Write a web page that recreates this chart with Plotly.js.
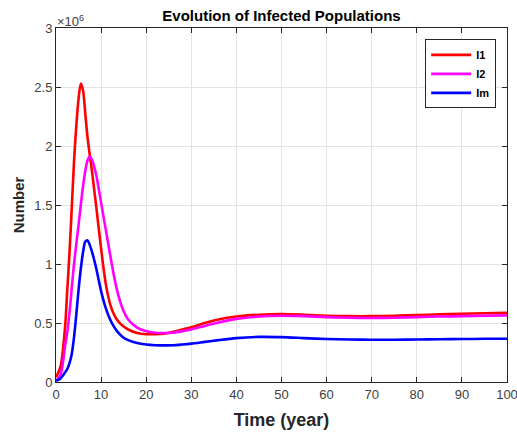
<!DOCTYPE html>
<html>
<head>
<meta charset="utf-8">
<script src="https://cdn.plot.ly/plotly-3.0.1.min.js"></script>
<style>html,body{margin:0;padding:0;background:#fff;}#chart{width:517px;height:437px;}</style>
</head>
<body>
<div id="chart"></div>
<script>
// Time (years)
const timeYears = [0, 1, 2, 2.5, 3, 3.5, 4, 4.5, 5, 5.5, 6, 6.5, 7, 7.5, 8, 8.5, 9, 10, 11, 12, 13, 14, 15, 16, 18, 20, 22, 24, 26, 28, 30, 33, 36, 40, 45, 50, 55, 60, 65, 70, 75, 80, 85, 90, 95, 100];
// Populations in units of 1e6
const I1 = [0.04, 0.13, 0.46, 0.78, 1.10, 1.48, 1.87, 2.17, 2.40, 2.53, 2.47, 2.27, 2.07, 1.92, 1.78, 1.62, 1.46, 1.13, 0.84, 0.66, 0.56, 0.505, 0.47, 0.445, 0.415, 0.405, 0.405, 0.41, 0.425, 0.445, 0.465, 0.50, 0.53, 0.555, 0.57, 0.575, 0.57, 0.562, 0.558, 0.558, 0.562, 0.567, 0.573, 0.578, 0.582, 0.586];
const I2 = [0.01, 0.06, 0.30, 0.42, 0.59, 0.80, 1.00, 1.17, 1.33, 1.50, 1.66, 1.79, 1.88, 1.91, 1.88, 1.82, 1.74, 1.52, 1.30, 1.08, 0.87, 0.71, 0.60, 0.53, 0.46, 0.43, 0.418, 0.415, 0.418, 0.43, 0.445, 0.475, 0.505, 0.535, 0.555, 0.562, 0.558, 0.55, 0.545, 0.543, 0.545, 0.55, 0.555, 0.558, 0.562, 0.565];
const Im = [0.01, 0.03, 0.08, 0.11, 0.16, 0.24, 0.38, 0.57, 0.78, 0.96, 1.10, 1.19, 1.20, 1.16, 1.10, 1.03, 0.95, 0.77, 0.63, 0.53, 0.46, 0.41, 0.375, 0.355, 0.33, 0.318, 0.312, 0.31, 0.312, 0.318, 0.325, 0.34, 0.355, 0.372, 0.382, 0.38, 0.372, 0.364, 0.36, 0.358, 0.358, 0.36, 0.362, 0.364, 0.366, 0.367];
const seriesNames = ['I1', 'I2', 'Im'];
const xTicks = [0, 10, 20, 30, 40, 50, 60, 70, 80, 90, 100];
const yTickVals = [0, 0.5, 1, 1.5, 2, 2.5, 3];
const yTickText = ['0', '0.5', '1', '1.5', '2', '2.5', '3'];

const font = 'Liberation Sans, Arial, Helvetica, sans-serif';
const colors = ['#ff0000', '#ff00ff', '#0000ff'];
const data = [I1, I2, Im].map((ys, i) => ({
  x: timeYears, y: ys, name: seriesNames[i], type: 'scatter', mode: 'lines',
  line: {color: colors[i], width: 2.6, shape: 'spline', smoothing: 0.8}
}));

const axisCommon = {
  showline: true, linecolor: '#262626', linewidth: 1, mirror: 'allticks',
  ticks: 'inside', ticklen: 5, tickcolor: '#262626', tickwidth: 1,
  showgrid: true, gridcolor: '#e3e3e3', gridwidth: 1, zeroline: false,
  tickfont: {family: font, size: 13, color: '#404040'}
};

const layout = {
  width: 517, height: 437,
  margin: {l: 56, r: 10, t: 28, b: 55},
  paper_bgcolor: '#fff', plot_bgcolor: '#fff',
  title: {text: '<b>Evolution of Infected Populations</b>', font: {family: font, size: 15, color: '#000'},
          xref: 'paper', x: 0.5, xanchor: 'center', yref: 'container', y: 0.965, yanchor: 'middle'},
  xaxis: Object.assign({}, axisCommon, {range: [0, 100], tickvals: xTicks, ticklabeloverflow: 'allow',
    title: {text: '<b>Time (year)</b>', font: {family: font, size: 18, color: '#262626'}, standoff: 12}}),
  yaxis: Object.assign({}, axisCommon, {range: [0, 3], tickvals: yTickVals, ticktext: yTickText,
    title: {text: '<b>Number</b>', font: {family: font, size: 15, color: '#262626'}, standoff: 6}}),
  showlegend: true,
  legend: {x: 0.976, xanchor: 'right', y: 0.968, yanchor: 'top', bgcolor: '#fff',
    bordercolor: '#262626', borderwidth: 1, font: {family: font, size: 11, color: '#000', weight: 'bold'},
    itemwidth: 40, tracegroupgap: 0},
  annotations: [{text: '×10<sup>6</sup>', xref: 'paper', yref: 'paper', x: 0, y: 1, xanchor: 'left', yanchor: 'bottom',
    showarrow: false, font: {family: font, size: 13, color: '#404040'}, xshift: -1, yshift: -3}]
};

Plotly.newPlot('chart', data, layout, {displayModeBar: false, staticPlot: true});
</script>
</body>
</html>
